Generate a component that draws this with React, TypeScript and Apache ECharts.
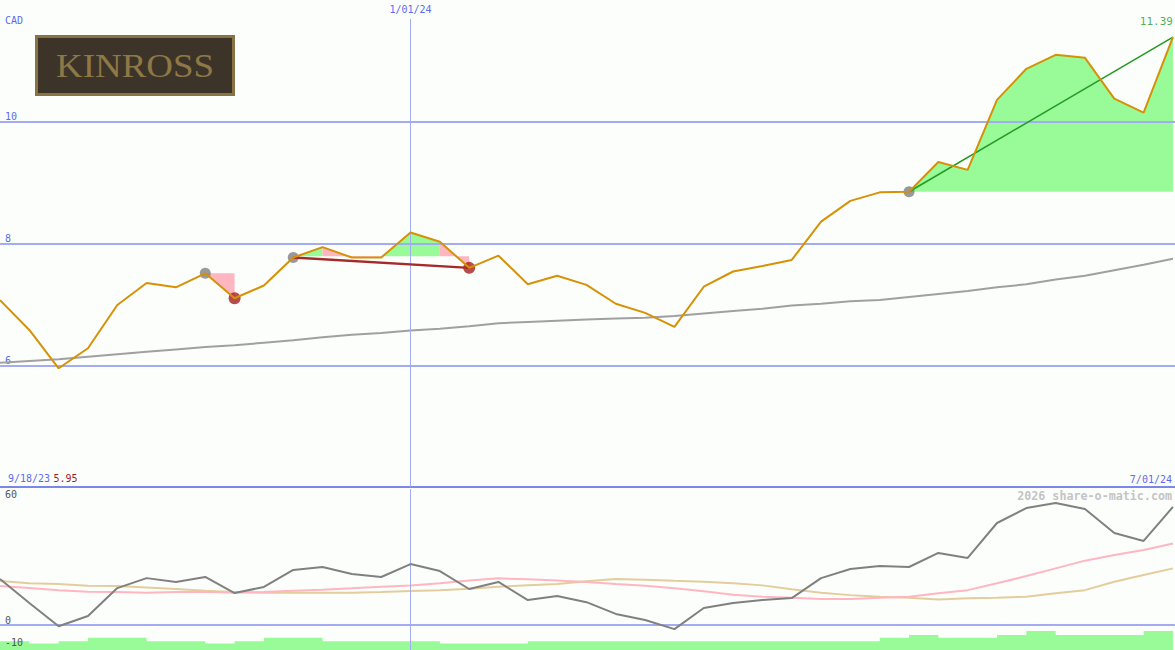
import React, { useEffect, useRef } from "react";
import * as echarts from "echarts";

// ---- data (weekly, index 0 .. 40) ----
const price = [7.07, 6.58, 5.95, 6.28, 6.99, 7.35, 7.28, 7.51, 7.10, 7.31, 7.77, 7.94, 7.77, 7.77, 8.18, 8.03, 7.60, 7.80, 7.33, 7.47, 7.32, 7.01, 6.86, 6.63, 7.29, 7.54, 7.63, 7.73, 8.36, 8.70, 8.84, 8.85, 9.34, 9.21, 10.36, 10.87, 11.10, 11.05, 10.38, 10.15, 11.39];
const priceMA = [6.04, 6.07, 6.10, 6.14, 6.18, 6.22, 6.26, 6.30, 6.33, 6.37, 6.41, 6.46, 6.50, 6.53, 6.57, 6.60, 6.64, 6.69, 6.71, 6.73, 6.75, 6.77, 6.78, 6.81, 6.85, 6.89, 6.93, 6.98, 7.01, 7.05, 7.07, 7.12, 7.17, 7.22, 7.28, 7.33, 7.41, 7.47, 7.56, 7.65, 7.75];
const oscGray = [20.3, 9.7, -0.5, 4.0, 16.3, 20.7, 19.0, 21.2, 14.1, 16.8, 24.3, 25.6, 22.5, 21.2, 26.9, 23.8, 15.9, 19.0, 11.0, 12.8, 10.1, 4.9, 2.2, -1.8, 7.5, 9.7, 11.0, 11.9, 20.7, 24.7, 26.0, 25.6, 31.8, 29.6, 45.0, 51.6, 53.8, 51.2, 40.6, 37.1, 52.1];
const oscPink = [17.2, 16.3, 15.4, 14.7, 14.6, 14.3, 14.6, 14.7, 14.3, 14.6, 15.1, 15.6, 16.2, 16.9, 17.4, 18.4, 19.7, 20.6, 20.2, 19.6, 19.0, 18.1, 17.3, 16.2, 14.9, 13.4, 12.5, 12.0, 11.5, 11.5, 12.0, 12.5, 14.0, 15.4, 18.4, 21.6, 25.0, 28.4, 30.9, 33.1, 36.0];
const oscTan = [19.4, 18.4, 18.1, 17.3, 17.2, 16.6, 15.9, 15.1, 14.6, 14.3, 14.3, 14.3, 14.3, 14.6, 15.0, 15.4, 16.0, 16.9, 17.5, 18.1, 19.3, 20.3, 20.0, 19.5, 19.1, 18.4, 17.5, 15.8, 14.2, 13.2, 12.5, 12.0, 11.3, 11.8, 12.0, 12.5, 14.0, 15.4, 19.1, 22.1, 25.0];
const volSteps = [-7.1, -8.1, -7.1, -5.6, -5.6, -7.1, -7.1, -8.1, -7.1, -5.6, -5.6, -7.1, -7.1, -7.1, -7.1, -8.1, -8.1, -8.1, -7.1, -7.1, -7.1, -7.1, -7.1, -7.1, -7.1, -7.1, -7.1, -7.1, -7.1, -7.1, -5.6, -4.4, -5.6, -5.6, -4.4, -2.6, -4.4, -4.4, -4.4, -2.6, -2.6];

const fillSegments = [
  { from: 7, to: 8, base: 7.51, up: false },
  { from: 10, to: 11, base: 7.79, up: true },
  { from: 11, to: 13, base: 7.79, up: false },
  { from: 13, to: 15, base: 7.79, up: true },
  { from: 15, to: 16, base: 7.79, up: false },
  { from: 31, to: 40, base: 8.85, up: true },
];
const trendLines = [
  { from: 10, to: 16, up: false },
  { from: 31, to: 40, up: true },
];
const pivotHighs = [7, 10, 31];
const pivotLows = [8, 16];

const priceTickLabels = [6, 8, 10];
const oscTickLabels = [0, -10];
const oscTopLabel = 60;
const currency = "CAD";
const startDate = "9/18/23";
const endDate = "7/01/24";
const midDate = "1/01/24";
const midIndex = 14;
const minPrice = "5.95";
const lastPrice = "11.39";

const XMAX = 40.07;
const BG = "#fcfefc";
const BLUE = "#5b6cf0";
const GRIDC = "#a3acf3";
const MONO = '"DejaVu Sans Mono", monospace';

const pts = (arr: number[], from = 0, to = arr.length - 1) =>
  arr.slice(from, to + 1).map((v, k) => [from + k, v]);

export default function App() {
  const ref = useRef<HTMLDivElement>(null);
  useEffect(() => {
    if (!ref.current) return;
    const chart = echarts.init(ref.current, undefined, { renderer: "svg" });
    const near = (v: number, t: number) => Math.abs(v - t) < 1e-6;

    const series: any[] = [];
    series.push({
      type: "line", xAxisIndex: 0, yAxisIndex: 0, z: 1, silent: true,
      data: pts(price), symbol: "none", lineStyle: { opacity: 0, width: 0 },
      markLine: {
        silent: true, symbol: "none", label: { show: false },
        data: [
          ...priceTickLabels.map((v) => ({ yAxis: v, lineStyle: { color: GRIDC, width: 2, type: "solid" } })),
          { xAxis: midIndex, lineStyle: { color: GRIDC, width: 1, type: "solid" } },
        ],
      },
    });
    series.push({
      type: "line", xAxisIndex: 3, yAxisIndex: 1, z: 1, silent: true,
      data: pts(oscGray), symbol: "none", lineStyle: { opacity: 0, width: 0 },
      markLine: {
        silent: true, symbol: "none", label: { show: false },
        data: [
          { yAxis: 0, lineStyle: { color: GRIDC, width: 2, type: "solid" } },
          { xAxis: midIndex, lineStyle: { color: GRIDC, width: 1, type: "solid" } },
        ],
      },
    });
    fillSegments.forEach((s) => {
      series.push({
        type: "line", xAxisIndex: 0, yAxisIndex: 0, z: 2, silent: true,
        data: pts(price, s.from, s.to), symbol: "none",
        lineStyle: { width: 0, opacity: 0 },
        areaStyle: { color: s.up ? "#98fb98" : "#ffb6c1", opacity: 1, origin: s.base },
      });
    });
    series.push({
      type: "line", xAxisIndex: 0, yAxisIndex: 0, z: 3, data: pts(priceMA), symbol: "none",
      lineStyle: { color: "#a0a0a0", width: 2 },
    });
    series.push({
      type: "scatter", xAxisIndex: 0, yAxisIndex: 0, z: 4,
      data: pivotHighs.map((i) => [i, price[i]]), symbolSize: 11,
      itemStyle: { color: "#808080" },
    });
    series.push({
      type: "scatter", xAxisIndex: 0, yAxisIndex: 0, z: 4,
      data: pivotLows.map((i) => [i, price[i]]), symbolSize: 12,
      itemStyle: { color: "#a51f1f" },
    });
    trendLines.forEach((t) => {
      series.push({
        type: "line", xAxisIndex: 0, yAxisIndex: 0, z: 5,
        data: [[t.from, price[t.from]], [t.to, price[t.to]]], symbol: "none",
        lineStyle: { color: t.up ? "#259a25" : "#a52a2a", width: t.up ? 1.6 : 2.4 },
      });
    });
    series.push({
      type: "line", xAxisIndex: 0, yAxisIndex: 0, z: 6, data: pts(price), symbol: "none",
      lineStyle: { color: "#d69106", width: 2 },
    });
    series.push({
      type: "scatter", xAxisIndex: 0, yAxisIndex: 0, z: 7,
      data: [[price.length - 1, price[price.length - 1]]], symbolSize: 1,
      itemStyle: { color: "transparent" },
      label: {
        show: true, position: "top", distance: 10, align: "right",
        formatter: () => lastPrice, color: "#259a25", fontFamily: MONO, fontSize: 11,
      },
    });
    series.push({
      type: "line", xAxisIndex: 3, yAxisIndex: 1, z: 2, data: pts(volSteps), step: "end",
      symbol: "none", lineStyle: { width: 0, opacity: 0 },
      areaStyle: { color: "#98fb98", opacity: 1, origin: "start" },
    });
    series.push({
      type: "line", xAxisIndex: 3, yAxisIndex: 1, z: 3, data: pts(oscTan), symbol: "none",
      lineStyle: { color: "#e3cd9c", width: 2 },
    });
    series.push({
      type: "line", xAxisIndex: 3, yAxisIndex: 1, z: 4, data: pts(oscPink), symbol: "none",
      lineStyle: { color: "#ffb6c1", width: 2 },
    });
    series.push({
      type: "line", xAxisIndex: 3, yAxisIndex: 1, z: 5, data: pts(oscGray), symbol: "none",
      lineStyle: { color: "#808080", width: 2 },
    });

    const hiddenX = {
      type: "value", min: 0, max: XMAX, interval: 1,
      axisLine: { show: false }, axisTick: { show: false }, axisLabel: { show: false },
      splitLine: { show: false },
    };

    chart.setOption({
      animation: false,
      backgroundColor: BG,
      grid: [
        { left: 0, width: 1175, top: 0, height: 487, containLabel: false, outerBoundsMode: "none" },
        { left: 0, width: 1175, top: 489, height: 161, containLabel: false, outerBoundsMode: "none" },
      ],
      xAxis: [
        {
          ...hiddenX, gridIndex: 0, position: "bottom",
          axisLine: { show: true, lineStyle: { color: "#7c87ec", width: 2 } },
          name: `{d|${startDate}} {m|${minPrice}}`, nameLocation: "start", nameGap: -8,
          nameTextStyle: {
            align: "left", verticalAlign: "bottom", padding: [0, 0, 3, 0],
            rich: {
              d: { color: BLUE, fontFamily: MONO, fontSize: 10 },
              m: { color: "#a01c1c", fontFamily: MONO, fontSize: 10 },
            },
          },
        },
        {
          ...hiddenX, gridIndex: 0, position: "top", z: 10,
          axisLabel: {
            show: true, inside: true, margin: 0,
            formatter: (v: number) => (near(v, midIndex) ? midDate : ""),
            color: BLUE, fontFamily: MONO, fontSize: 10,
            backgroundColor: BG, padding: [4, 2, 5, 2],
          },
        },
        {
          ...hiddenX, gridIndex: 0, position: "bottom",
          name: endDate, nameLocation: "end", nameGap: -3,
          nameTextStyle: {
            align: "right", verticalAlign: "bottom", padding: [0, 0, 3, 0],
            color: BLUE, fontFamily: MONO, fontSize: 10,
          },
        },
        { ...hiddenX, gridIndex: 1, position: "bottom" },
      ],
      yAxis: [
        {
          type: "value", gridIndex: 0, min: 4, max: 12, interval: 2, position: "left",
          axisLine: { show: false }, axisTick: { show: false }, splitLine: { show: false },
          axisLabel: {
            inside: true, margin: 5, verticalAlign: "bottom", color: BLUE,
            fontFamily: MONO, fontSize: 10,
            formatter: (v: number) => (priceTickLabels.some((t) => near(v, t)) ? String(v) : ""),
          },
          name: currency, nameLocation: "end", nameGap: -20,
          nameTextStyle: {
            align: "left", verticalAlign: "middle", padding: [0, 0, 0, 5],
            color: BLUE, fontFamily: MONO, fontSize: 10,
          },
        },
        {
          type: "value", gridIndex: 1, min: -11, max: 60, interval: 1, position: "left", z: 10,
          axisLine: { show: false }, axisTick: { show: false }, splitLine: { show: false },
          axisLabel: {
            inside: true, margin: 5, verticalAlign: "bottom", color: "#555555",
            fontFamily: MONO, fontSize: 10,
            formatter: (v: number) => (oscTickLabels.some((t) => near(v, t)) ? String(v) : ""),
          },
        },
        {
          type: "value", gridIndex: 1, min: -11, max: 60, interval: 1, position: "left", z: 10,
          axisLine: { show: false }, axisTick: { show: false }, splitLine: { show: false },
          axisLabel: {
            inside: true, margin: 5, verticalAlign: "top", color: "#555555",
            fontFamily: MONO, fontSize: 10,
            formatter: (v: number) => (near(v, oscTopLabel) ? String(v) : ""),
          },
        },
      ],
      graphic: [
        {
          type: "group", x: 35, y: 35, z: 100,
          children: [
            { type: "rect", shape: { x: 0, y: 0, width: 200, height: 61 }, style: { fill: "#8a7343" } },
            { type: "rect", shape: { x: 3, y: 3, width: 194, height: 55 }, style: { fill: "#3d3429" } },
            {
              type: "text", x: 100, y: 31, scaleX: 1.12,
              style: {
                text: "KINROSS", font: '33px "Liberation Serif", serif', fill: "#8e7846",
                align: "center", verticalAlign: "middle",
              },
            },
          ],
        },
        {
          type: "text", x: 1172, y: 496, z: 100,
          style: {
            text: "2026 share-o-matic.com", font: 'bold 11.7px "DejaVu Sans Mono", monospace',
            fill: "#c4c4c4", align: "right", verticalAlign: "middle",
          },
        },
      ],
      series,
    });
    return () => chart.dispose();
  }, []);
  return (
    <div
      ref={ref}
      style={{ position: "fixed", left: 0, top: 0, width: 1175, height: 650, background: BG }}
    />
  );
}
